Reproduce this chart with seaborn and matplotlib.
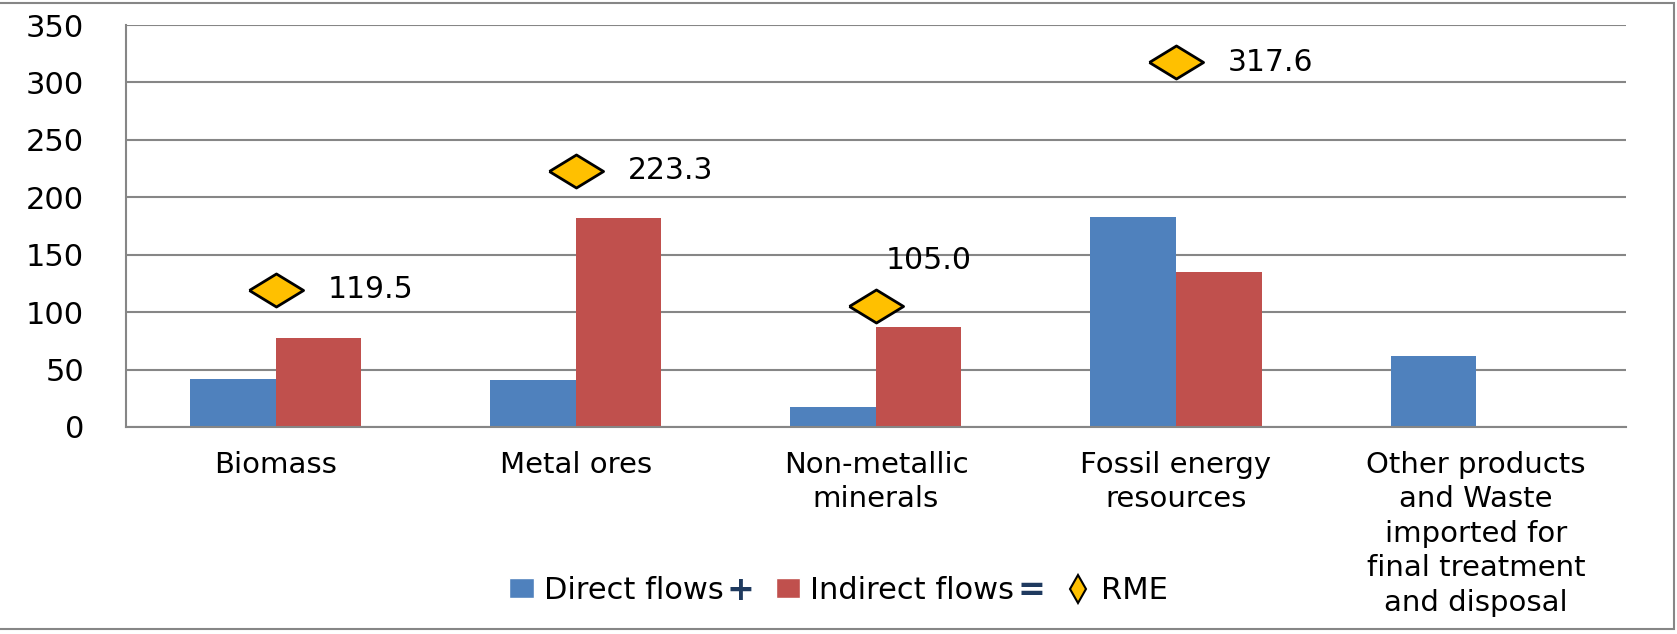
"""
Raw material equivalents (RME) by material group: direct + indirect flows.
"""

import matplotlib.pyplot as plt
import numpy as np
import pandas as pd
import seaborn as sns
from matplotlib.lines import Line2D
from matplotlib.patches import Patch, Rectangle

# ---- data -----------------------------------------------------------------
categories = [
    "Biomass",
    "Metal ores",
    "Non-metallic\nminerals",
    "Fossil energy\nresources",
    "Other products\nand Waste\nimported for\nfinal treatment\nand disposal",
]
direct_flows = [41.9, 41.0, 17.8, 182.6, 61.8]
indirect_flows = [77.6, 182.3, 87.2, 135.0, 0.0]

rme_categories = categories[:4]
rme_values = [119.5, 223.3, 105.0, 317.6]
rme_labels = ["119.5", "223.3", "105.0", "317.6"]

series_names = ["Direct flows", "Indirect flows", "RME"]
y_ticks = [0, 50, 100, 150, 200, 250, 300, 350]

# ---- style ----------------------------------------------------------------
BLUE = "#4F81BD"
RED = "#C0504D"
GOLD = "#FFC000"
GRID = "#868686"
NAVY = "#1F3A5F"
DIAMOND = [(-1, 0), (0, 0.61), (1, 0), (0, -0.61), (-1, 0)]
# pixel offsets of the RME value labels from their markers
label_offsets = {"105.0": (10, 46)}
default_offset = (52, 0)

sns.set_style("white")
plt.rcParams["font.family"] = ["DejaVu Sans"]
plt.rcParams["text.color"] = "black"

df = pd.DataFrame({
    "category": categories * 2,
    "flow": [series_names[0]] * len(categories) + [series_names[1]] * len(categories),
    "value": direct_flows + indirect_flows,
})

fig = plt.figure(figsize=(16.77, 6.34), dpi=100)
ax = fig.add_axes([0.0751, 0.3265, 0.8945, 0.634])

sns.barplot(
    data=df, x="category", y="value", hue="flow",
    order=categories, hue_order=series_names[:2],
    palette=[BLUE, RED], width=0.57, saturation=1,
    errorbar=None, legend=False, linewidth=0, ax=ax,
)
sns.stripplot(
    x=rme_categories, y=rme_values, order=categories, jitter=False,
    marker=DIAMOND, size=39, color=GOLD, edgecolor="black", linewidth=2,
    zorder=5, ax=ax,
)

for cat, val, lab in zip(rme_categories, rme_values, rme_labels):
    ax.annotate(
        lab, xy=(categories.index(cat), val),
        xytext=label_offsets.get(lab, default_offset), textcoords="offset pixels",
        ha="left", va="center", fontsize=21.5, color="black",
    )

ax.set_ylim(0, 350)
ax.set_xlim(-0.5, len(categories) - 0.5)
ax.set_yticks(y_ticks)
ax.set_xlabel("")
ax.set_ylabel("")

ax.yaxis.grid(True, color=GRID, linewidth=1.5)
ax.set_axisbelow(True)
for side in ["top", "right"]:
    ax.spines[side].set_visible(False)
for side in ["left", "bottom"]:
    ax.spines[side].set_color(GRID)
    ax.spines[side].set_linewidth(1.5)

ax.set_xticks(np.arange(len(categories) + 1) - 0.5, minor=True)
ax.tick_params(axis="y", length=9, width=1.5, color=GRID, pad=21,
               labelsize=22, labelcolor="black")
ax.tick_params(axis="x", which="major", length=0, pad=17,
               labelsize=21, labelcolor="black")
ax.tick_params(axis="x", which="minor", length=6.5, width=1.5, color=GRID)
for lbl in ax.get_xticklabels():
    lbl.set_linespacing(1.3)

# legend with the "+" and "=" between entries
handles = [
    Patch(facecolor=BLUE),
    Patch(facecolor=RED),
    Line2D([], [], marker="d", linestyle="none", markerfacecolor=GOLD,
           markeredgecolor="black", markersize=14, markeredgewidth=1.5),
]
leg = fig.legend(
    handles, series_names, loc="center", bbox_to_anchor=(0.5, 0.069),
    ncol=3, frameon=False, fontsize=22, handlelength=0.8, handleheight=0.6,
    handletextpad=0.33, columnspacing=1.7, labelcolor="black",
)

fig.canvas.draw()
renderer = fig.canvas.get_renderer()
for idx, sym in [(0, "+"), (1, "=")]:
    bb = leg.get_texts()[idx].get_window_extent(renderer)
    fig.text(
        (bb.x1 + 17) / fig.bbox.width, (bb.y0 + bb.y1) / 2 / fig.bbox.height,
        sym, ha="center", va="center", fontsize=24, fontweight="bold", color=NAVY,
    )

fig.add_artist(Rectangle(
    (-0.01, 0.008), 1.008, 0.988, transform=fig.transFigure,
    fill=False, edgecolor=GRID, linewidth=1.5,
))

fig.savefig("out.png", dpi=100)
plt.close(fig)
